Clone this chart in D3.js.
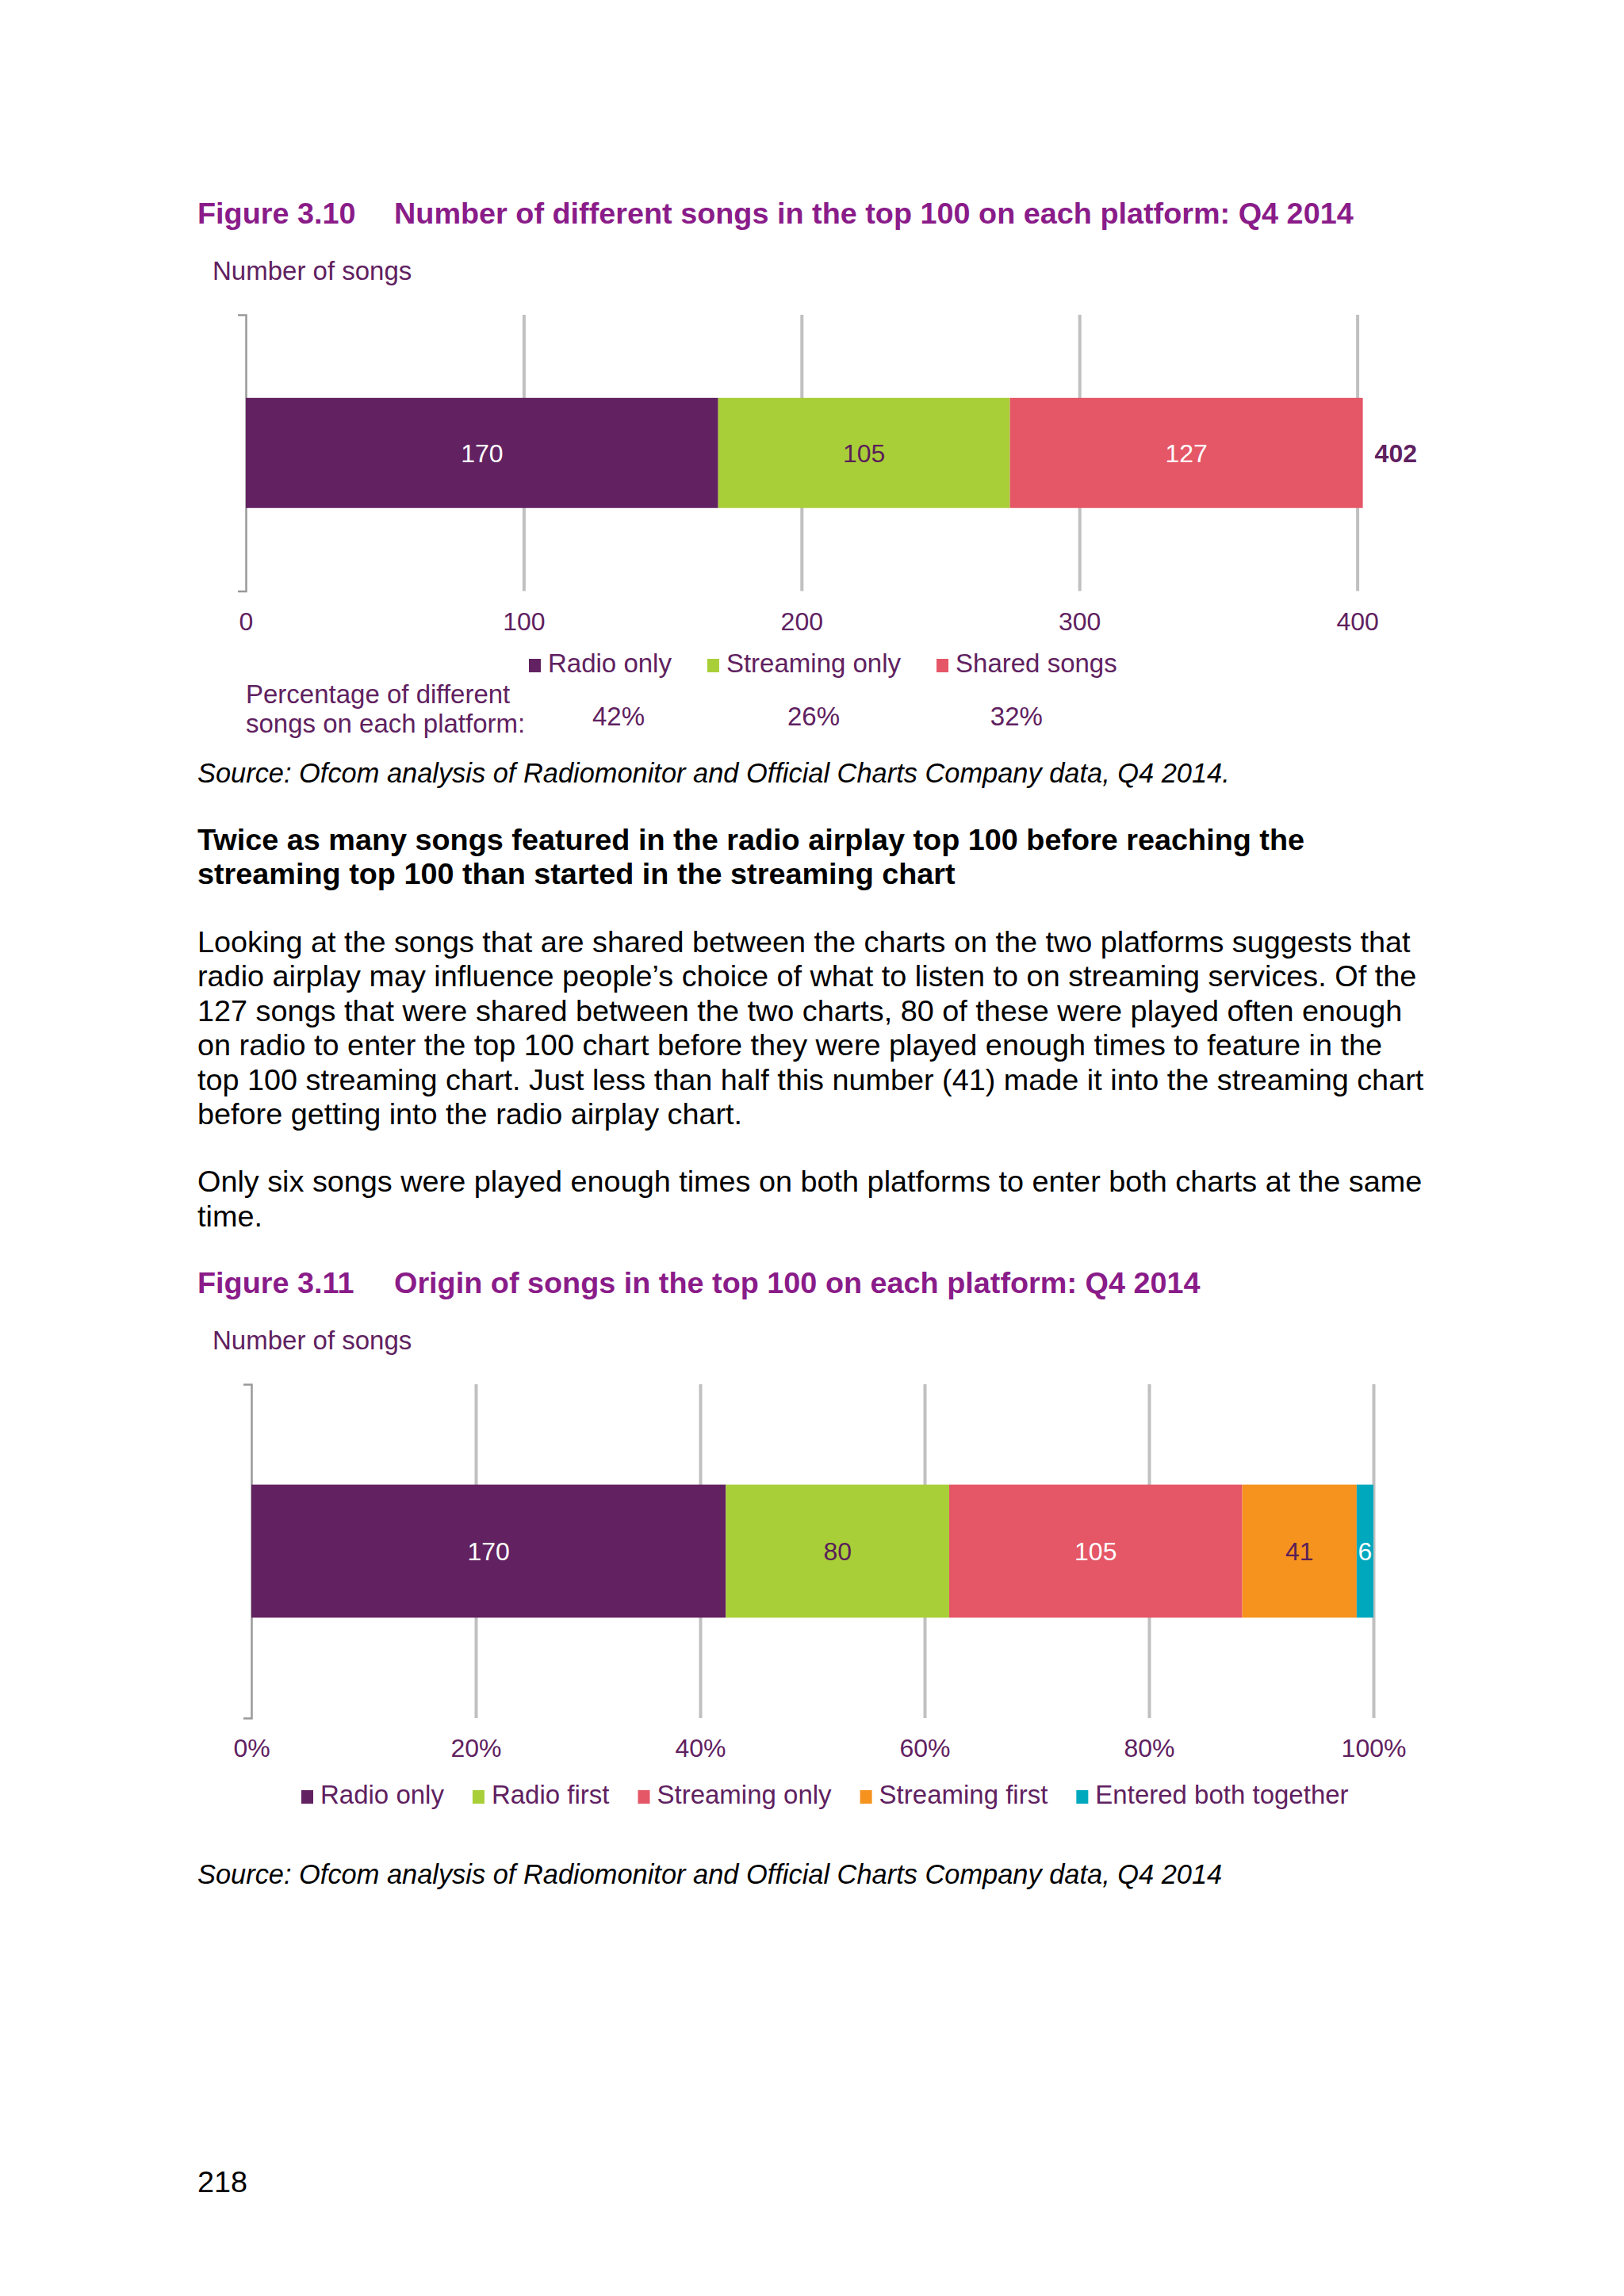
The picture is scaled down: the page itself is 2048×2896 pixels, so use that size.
<!DOCTYPE html>
<html>
<head>
<meta charset="utf-8">
<script src="https://cdn.jsdelivr.net/npm/d3@7"></script>
<style>
  body { margin: 0; background: #fff; }
  text { font-family: "Liberation Sans", Arial, sans-serif; }
</style>
</head>
<body>
<div id="page"></div>
<script>
// ---- data ----
var fig1Categories = ["Radio only", "Streaming only", "Shared songs"];
var fig1Values = [170, 105, 127];
var fig1Ticks = [0, 100, 200, 300, 400];
var fig1Percent = ["42%", "26%", "32%"];

var fig2Categories = ["Radio only", "Radio first", "Streaming only", "Streaming first", "Entered both together"];
var fig2Values = [170, 80, 105, 41, 6];
var fig2Ticks = [0, 0.2, 0.4, 0.6, 0.8, 1];

// ---- styles ----
var segColors = {
  "Radio only": "#622261",
  "Streaming only": "#a9cf38",
  "Shared songs": "#e55767",
  "Radio first": "#a9cf38",
  "Streaming first": "#f6921e",
  "Entered both together": "#00a8be"
};
var fig2Colors = {"Streaming only": "#e55767"};
var labelColors = {
  "#622261": "#ffffff", "#a9cf38": "#5a2059", "#e55767": "#ffffff",
  "#f6921e": "#5a2059", "#00a8be": "#ffffff"
};
var titleColor = "#8a1c89";
var chartText = "#5f2160";

var W = 2048, H = 2896;
var svg = d3.select("#page").append("svg")
  .attr("width", W).attr("height", H)
  .style("background", "#fff");

function addText(x, y, str, size, opts) {
  opts = opts || {};
  return svg.append("text")
    .attr("x", x).attr("y", y)
    .attr("font-size", size)
    .attr("font-weight", opts.bold ? "bold" : null)
    .attr("font-style", opts.italic ? "italic" : null)
    .attr("fill", opts.fill || "#000")
    .attr("text-anchor", opts.anchor || "start")
    .text(str);
}

function drawStack(cfg) {
  var g = svg.append("g");
  var x = d3.scaleLinear().domain(cfg.domain).range([cfg.left, cfg.right]);
  var y = d3.scaleBand().domain(["songs"]).range([cfg.top, cfg.bottom]).padding(0.43);

  var row = {key: "songs"};
  cfg.categories.forEach(function(c, i){ row[c] = cfg.values[i]; });
  var stack = d3.stack().keys(cfg.categories);
  if (cfg.expand) stack.offset(d3.stackOffsetExpand);
  var series = stack([row]);

  // gridlines + tick labels
  var axis = d3.axisBottom(x)
    .tickValues(cfg.ticks)
    .tickFormat(cfg.format)
    .tickSizeInner(-(cfg.bottom - cfg.top))
    .tickSizeOuter(0)
    .tickPadding(cfg.tickPad);
  var ag = g.append("g")
    .attr("transform", "translate(0," + cfg.bottom + ")")
    .call(axis);
  ag.select(".domain").remove();
  ag.selectAll(".tick line").attr("stroke", "#c0c0c0").attr("stroke-width", 4)
    .filter(function(d){ return d === 0; }).remove();
  ag.selectAll(".tick text")
    .attr("font-size", 32)
    .attr("font-family", "'Liberation Sans', Arial, sans-serif")
    .attr("fill", chartText);

  // left category axis (bracket)
  var yg = g.append("g")
    .attr("transform", "translate(" + x(0) + ",0)")
    .call(d3.axisLeft(y).tickValues([]).tickSizeOuter(10));
  yg.select(".domain").attr("stroke", "#999").attr("stroke-width", 2.5);

  // bars
  var segs = g.selectAll(".seg").data(series).enter().append("g").attr("class", "seg");
  segs.append("rect")
    .attr("x", function(s){ return x(s[0][0]); })
    .attr("width", function(s){ return x(s[0][1]) - x(s[0][0]); })
    .attr("y", y("songs"))
    .attr("height", y.bandwidth())
    .attr("fill", function(s){ return cfg.color(s.key); });
  segs.append("text")
    .attr("x", function(s){ return (x(s[0][0]) + x(s[0][1])) / 2; })
    .attr("y", y("songs") + y.bandwidth() / 2)
    .attr("dy", "0.36em")
    .attr("text-anchor", "middle")
    .attr("font-size", 32)
    .attr("fill", function(s){ return labelColors[cfg.color(s.key)]; })
    .text(function(s){ return s[0].data[s.key]; });

  // legend
  var lx = cfg.legendX, centers = [];
  cfg.categories.forEach(function(c){
    g.append("rect")
      .attr("x", lx).attr("y", cfg.legendY - 17)
      .attr("width", 15).attr("height", 17)
      .attr("fill", cfg.color(c));
    var t = g.append("text")
      .attr("x", lx + 24).attr("y", cfg.legendY)
      .attr("font-size", 33).attr("fill", chartText)
      .text(c);
    var w = t.node().getComputedTextLength();
    centers.push(lx + 24 + w / 2);
    lx += 24 + w + cfg.legendGap;
  });

  return {x: x, y: y, series: series, g: g, centers: centers};
}

// ---- Figure 3.10 ----
addText(249, 282, "Figure 3.10", 37.8, {bold: true, fill: titleColor});
addText(497, 282, "Number of different songs in the top 100 on each platform: Q4 2014", 37.8, {bold: true, fill: titleColor});
addText(268, 353, "Number of songs", 33, {fill: chartText});

var c1 = drawStack({
  categories: fig1Categories, values: fig1Values,
  domain: [0, 400], ticks: fig1Ticks, format: d3.format("d"),
  left: 310, right: 1711.6, top: 397, bottom: 745.6, tickPad: 27,
  color: function(k){ return segColors[k]; },
  legendX: 667, legendY: 848, legendGap: 45
});
var total1 = d3.sum(fig1Values);
c1.g.append("text")
  .attr("x", c1.x(total1) + 15)
  .attr("y", c1.y("songs") + c1.y.bandwidth() / 2)
  .attr("dy", "0.36em")
  .attr("font-size", 32).attr("font-weight", "bold")
  .attr("fill", chartText)
  .text(total1);

addText(310, 887, "Percentage of different", 33, {fill: chartText});
addText(310, 924, "songs on each platform:", 33, {fill: chartText});
fig1Percent.forEach(function(p, i){
  addText(c1.centers[i] + [11, 0, -25][i], 915, p, 33, {fill: chartText, anchor: "middle"});
});
addText(249, 987, "Source: Ofcom analysis of Radiomonitor and Official Charts Company data, Q4 2014.", 34.4, {italic: true});

// ---- text ----
addText(249, 1072, "Twice as many songs featured in the radio airplay top 100 before reaching the", 37.8, {bold: true});
addText(249, 1115, "streaming top 100 than started in the streaming chart", 37.8, {bold: true});

var para1 = [
  "Looking at the songs that are shared between the charts on the two platforms suggests that",
  "radio airplay may influence people\u2019s choice of what to listen to on streaming services. Of the",
  "127 songs that were shared between the two charts, 80 of these were played often enough",
  "on radio to enter the top 100 chart before they were played enough times to feature in the",
  "top 100 streaming chart. Just less than half this number (41) made it into the streaming chart",
  "before getting into the radio airplay chart."
];
para1.forEach(function(l, i){ addText(249, 1200.7 + i * 43.5, l, 37.8); });
var para2 = [
  "Only six songs were played enough times on both platforms to enter both charts at the same",
  "time."
];
para2.forEach(function(l, i){ addText(249, 1503 + i * 43.5, l, 37.8); });

// ---- Figure 3.11 ----
addText(249, 1631, "Figure 3.11", 37.8, {bold: true, fill: titleColor});
addText(497, 1631, "Origin of songs in the top 100 on each platform: Q4 2014", 37.8, {bold: true, fill: titleColor});
addText(268, 1702, "Number of songs", 33, {fill: chartText});

drawStack({
  categories: fig2Categories, values: fig2Values, expand: true,
  domain: [0, 1], ticks: fig2Ticks, format: d3.format(".0%"),
  left: 317, right: 1732, top: 1746, bottom: 2167, tickPad: 26,
  color: function(k){ return fig2Colors[k] || segColors[k]; },
  legendX: 380, legendY: 2275, legendGap: 36
});

addText(249, 2376, "Source: Ofcom analysis of Radiomonitor and Official Charts Company data, Q4 2014", 34.4, {italic: true});
addText(249, 2765, "218", 37.8);
</script>
</body>
</html>
